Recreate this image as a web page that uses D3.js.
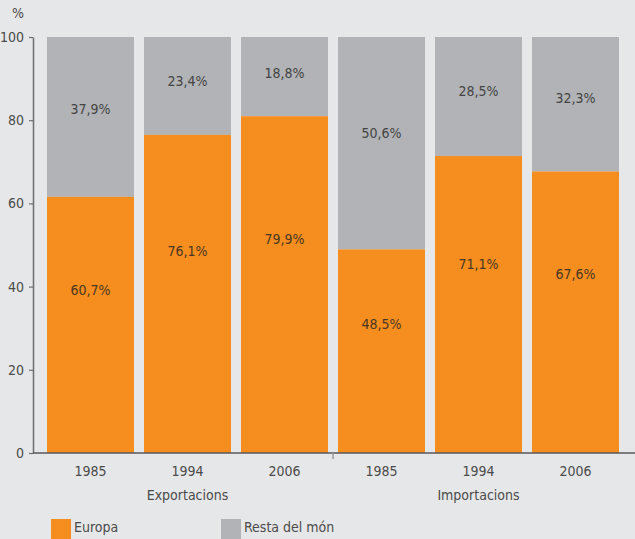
<!DOCTYPE html>
<meta charset="utf-8">
<head>
  <title>Exportacions i importacions per destinació</title>
</head>
<body>
<style>
  html, body {
    margin: 0;
    padding: 0;
    background: #e6e7e8;
  }
  svg text {
    font-family: "DejaVu Sans Condensed", "DejaVu Sans", sans-serif;
    font-stretch: condensed;
    font-size: 14px;
    fill: #4b4b4b;
  }
  .axis path, .axis line {
    stroke: #6d6e70;
  }
</style>
<div class="chart"></div>
<script src="https://cdn.jsdelivr.net/npm/d3@7"></script>
<script>

var groups = ["Exportacions", "Importacions"];
var years = ["1985", "1994", "2006"];
var europa = [60.7, 76.1, 79.9, 48.5, 71.1, 67.6];
var restaDelMon = [37.9, 23.4, 18.8, 50.6, 28.5, 32.3];
var yTicks = [0, 20, 40, 60, 80, 100];
var seriesNames = ["Europa", "Resta del món"];
var seriesColors = ["#f68d1f", "#b1b3b6"];

var width = 635,
    height = 539;

// one band per bar: group + year
var bars = [];
groups.forEach(function(g, gi) {
  years.forEach(function(y, yi) {
    var i = gi * years.length + yi;
    var total = europa[i] + restaDelMon[i];
    bars.push({
      key: g + "-" + y,
      group: g,
      year: y,
      europa: europa[i],
      resta: restaDelMon[i],
      // bars are stacked up to 100%
      europaNorm: europa[i] / total * 100
    });
  });
});

var svg = d3.select(".chart").append("svg")
    .attr("width", width)
    .attr("height", height);

var x = d3.scaleBand()
    .domain(bars.map(function(d) { return d.key; }))
    .range([42, 624])
    .paddingInner(10 / 97)
    .paddingOuter(0.0515);

var y = d3.scaleLinear()
    .domain([0, 100])
    .range([453, 37]);

function fmt(v) {
  return v.toFixed(1).replace(".", ",") + "%";
}

// bars
var bar = svg.append("g").selectAll("g")
    .data(bars)
  .enter().append("g");

bar.append("rect")
    .attr("x", function(d) { return x(d.key); })
    .attr("width", x.bandwidth())
    .attr("y", y(100))
    .attr("height", function(d) { return y(d.europaNorm) - y(100); })
    .attr("fill", seriesColors[1]);

bar.append("rect")
    .attr("x", function(d) { return x(d.key); })
    .attr("width", x.bandwidth())
    .attr("y", function(d) { return y(d.europaNorm); })
    .attr("height", function(d) { return y(0) - y(d.europaNorm); })
    .attr("fill", seriesColors[0]);

// labels sit a bit above the middle of each segment
bar.append("text")
    .attr("x", function(d) { return x(d.key) + x.bandwidth() / 2; })
    .attr("y", function(d) {
      var top = y(100), bottom = y(d.europaNorm);
      return top + (bottom - top) * 0.45;
    })
    .attr("dy", "0.36em")
    .attr("text-anchor", "middle")
    .style("fill", "#444")
    .text(function(d) { return fmt(d.resta); });

bar.append("text")
    .attr("x", function(d) { return x(d.key) + x.bandwidth() / 2; })
    .attr("y", function(d) {
      var top = y(d.europaNorm), bottom = y(0);
      return top + (bottom - top) * 0.365;
    })
    .attr("dy", "0.36em")
    .attr("text-anchor", "middle")
    .style("fill", "#4a3822")
    .text(function(d) { return fmt(d.europa); });

// y axis
var yAxis = svg.append("g")
    .attr("class", "axis")
    .attr("transform", "translate(33,0)")
    .call(d3.axisLeft(y).tickValues(yTicks).tickSize(4).tickSizeOuter(0).tickPadding(5));

yAxis.select(".domain").attr("stroke-width", 1.5);
yAxis.selectAll(".tick line").attr("stroke-width", 1.2);
yAxis.selectAll("text")
    .style("font-family", null)
    .style("font-size", null)
    .attr("font-family", null)
    .attr("font-size", null)
    .style("fill", "#4b4b4b");
yAxis.attr("font-family", null).attr("font-size", null);

svg.append("text")
    .attr("x", 12)
    .attr("y", 18)
    .text("%");

// baseline
svg.append("line")
    .attr("x1", 33)
    .attr("x2", width)
    .attr("y1", y(0))
    .attr("y2", y(0))
    .attr("stroke", "#58595b")
    .attr("stroke-width", 1.5);

// separator between groups
var sepX = (x(bars[2].key) + x.bandwidth() + x(bars[3].key)) / 2;
svg.append("line")
    .attr("x1", sepX)
    .attr("x2", sepX)
    .attr("y1", y(0))
    .attr("y2", y(0) + 6)
    .attr("stroke", "#9a9b9d")
    .attr("stroke-width", 1.5);

// year labels
svg.append("g").selectAll("text")
    .data(bars)
  .enter().append("text")
    .attr("x", function(d) { return x(d.key) + x.bandwidth() / 2; })
    .attr("y", 476)
    .attr("text-anchor", "middle")
    .text(function(d) { return d.year; });

// group labels under the middle bar
svg.append("g").selectAll("text")
    .data(groups)
  .enter().append("text")
    .attr("x", function(g) { return x(g + "-" + years[1]) + x.bandwidth() / 2; })
    .attr("y", 500)
    .attr("text-anchor", "middle")
    .text(function(g) { return g; });

// legend
var legendX = [51, 221];
var legend = svg.append("g").selectAll("g")
    .data(seriesNames)
  .enter().append("g")
    .attr("transform", function(d, i) { return "translate(" + legendX[i] + ",519)"; });

legend.append("rect")
    .attr("width", 20)
    .attr("height", 20)
    .attr("fill", function(d, i) { return seriesColors[i]; });

legend.append("text")
    .attr("x", 23)
    .attr("y", 13)
    .text(function(d) { return d; });

</script>
</body>
